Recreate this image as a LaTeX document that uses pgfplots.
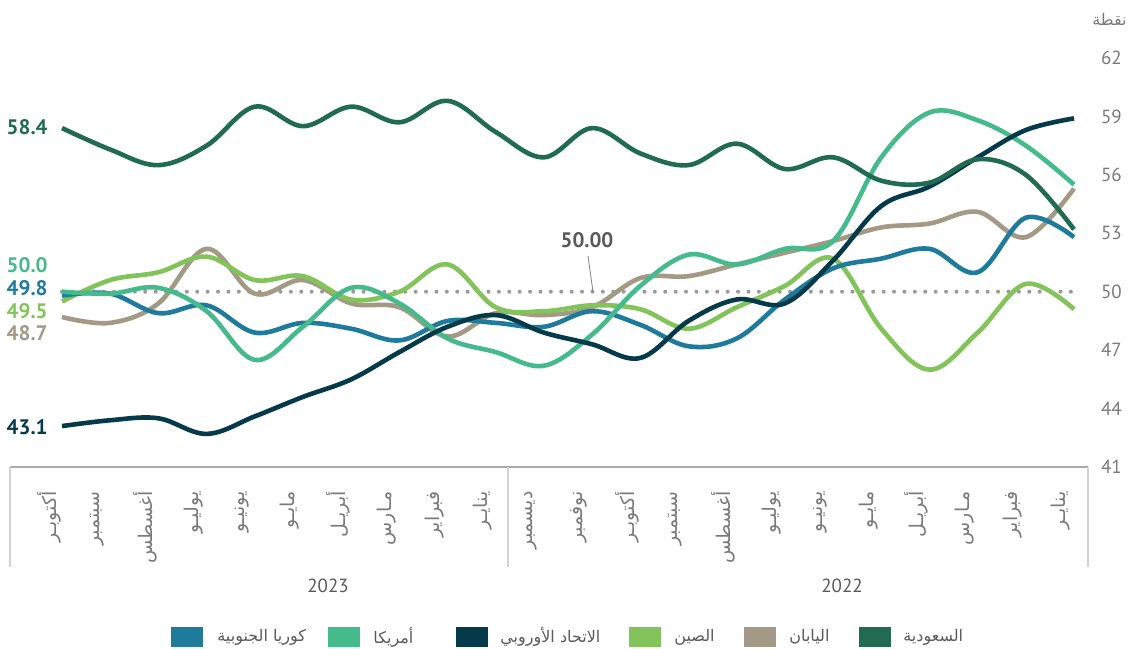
\documentclass[border=0pt]{standalone}
\usepackage{pgfplots}
\pgfplotsset{compat=1.18}
\usepackage{fontspec}
\setmainfont{PT Sans}
\newfontfamily\arabicfont[Script=Arabic]{DejaVu Sans}
\TeXXeTstate=1
\newcommand{\ar}[1]{{\arabicfont\beginR #1\endR}}
\definecolor{csa}{HTML}{216B52}
\definecolor{ceu}{HTML}{053A4A}
\definecolor{cus}{HTML}{45BA8C}
\definecolor{ccn}{HTML}{82C45A}
\definecolor{cjp}{HTML}{A39A85}
\definecolor{ckr}{HTML}{1F7B9B}
\definecolor{tickgray}{HTML}{7A7A7A}
\definecolor{axgray}{HTML}{A8A8A8}
\definecolor{sepgray}{HTML}{D2D2D2}
\definecolor{dotgray}{HTML}{9A9A9A}
\definecolor{txtgray}{HTML}{5A5A5A}
\pgfplotstableread{
i sa eu us cn jp kr
0 58.4 43.1 50.0 49.5 48.7 49.8
1 57.3 43.4 49.9 50.6 48.4 49.9
2 56.5 43.5 50.2 51.0 49.4 48.9
3 57.5 42.7 49.0 51.8 52.2 49.3
4 59.5 43.6 46.5 50.6 49.9 47.9
5 58.5 44.6 48.2 50.8 50.6 48.4
6 59.5 45.5 50.2 49.6 49.4 48.1
7 58.7 46.9 49.4 50.0 49.2 47.5
8 59.8 48.2 47.6 51.4 47.7 48.5
9 58.2 48.8 46.9 49.2 48.9 48.4
10 56.9 47.9 46.2 49.0 48.8 48.2
11 58.4 47.3 47.8 49.3 49.2 49.0
12 57.1 46.6 50.3 49.1 50.7 48.3
13 56.5 48.5 51.9 48.1 50.8 47.2
14 57.6 49.6 51.4 49.2 51.4 47.6
15 56.3 49.4 52.2 50.3 52.0 49.6
16 56.9 51.6 52.6 51.7 52.6 51.2
17 55.7 54.4 56.9 48.1 53.3 51.7
18 55.6 55.4 59.2 46.0 53.5 52.2
19 56.8 56.9 58.8 47.9 54.1 51.0
20 56.0 58.3 57.5 50.4 52.8 53.8
21 53.2 58.9 55.5 49.1 55.3 52.8
}\pmidata
\begin{document}
\begin{tikzpicture}
\path[use as bounding box] (0,0) rectangle (564.5pt,324pt);
\begin{axis}[
  at={(5pt,90.5pt)}, anchor=south west,
  scale only axis, width=539pt, height=204.5pt,
  xmin=-1.08, xmax=21.29, ymin=41, ymax=62,
  axis x line=bottom, axis y line=right,
  x axis line style={-, draw=axgray, line width=1pt},
  y axis line style={draw=none},
  ytick={41,44,...,62},
  xtick={0,...,21},
  major tick length=0pt,
  /pgf/number format/assume math mode=true,
  yticklabel style={font=\fontsize{9.5}{11}\selectfont, text=tickgray, anchor=west, xshift=3pt},
  xticklabels={\ar{أكتوبـر},\ar{سبتمبر},\ar{أغسطس},\ar{يوليـو},\ar{يونيـو},\ar{مايـو},\ar{أبريـل},\ar{مـارس},\ar{فبراير},\ar{ينايـر},\ar{ديسمبر},\ar{نوفمبر},\ar{أكتوبـر},\ar{سبتمبر},\ar{أغسطس},\ar{يوليـو},\ar{يونيـو},\ar{مايـو},\ar{أبريـل},\ar{مـارس},\ar{فبراير},\ar{ينايـر}},
  xticklabel style={font=\fontsize{9.5}{10}\selectfont, text=tickgray, xshift=-6.5pt, yshift=-12pt, rotate=90, anchor=east, inner sep=0pt},
  clip=false,
  every axis plot/.append style={line width=2.3pt, smooth, tension=0.6, no markers},
]
\addplot[dotgray, line width=2pt, line cap=round, dash pattern=on 0pt off 5.2pt, sharp plot] coordinates {(0,50) (21,50)};
\addplot[cjp] table[x=i,y=jp] {\pmidata};
\addplot[ccn] table[x=i,y=cn] {\pmidata};
\addplot[ckr] table[x=i,y=kr] {\pmidata};
\addplot[cus] table[x=i,y=us] {\pmidata};
\addplot[ceu] table[x=i,y=eu] {\pmidata};
\addplot[csa] table[x=i,y=sa] {\pmidata};
\draw[sepgray, line width=0.6pt] (axis cs:-1.08,41) -- ([yshift=-50pt]axis cs:-1.08,41);
\draw[sepgray, line width=0.6pt] (axis cs:9.255,41) -- ([yshift=-50pt]axis cs:9.255,41);
\draw[sepgray, line width=0.6pt] (axis cs:21.29,41) -- ([yshift=-50pt]axis cs:21.29,41);
\end{axis}
\begin{scope}[x=0.5pt, y=-0.5pt, yshift=324pt]
% year labels
\node[text=txtgray, font=\fontsize{9.5}{11}\selectfont] at (328,586) {2023};
\node[text=txtgray, font=\fontsize{9.5}{11}\selectfont] at (842,586) {2022};
% unit label
\node[text=tickgray, anchor=east, font=\fontsize{8}{10}\selectfont\arabicfont, inner sep=0pt] at (1127,19) {\beginR نقطة\endR};
% end labels
\begin{scope}[every node/.style={anchor=east, inner sep=0pt, font=\fontsize{10.5}{12}\selectfont\bfseries}]
\node[text=csa] at (48,127) {58.4};
\node[text=cus] at (48,265) {50.0};
\node[text=ckr] at (48,288) {49.8};
\node[text=ccn] at (48,311) {49.5};
\node[text=cjp] at (48,333) {48.7};
\node[text=ceu] at (48,427) {43.1};
\end{scope}
% 50.00 annotation
\node[text=txtgray, font=\fontsize{10.5}{12}\selectfont\bfseries] at (587,240) {50.00};
\draw[gray, line width=0.4pt] (588,256) -- (593,292);
% legend
\begin{scope}[every node/.style={anchor=west, inner sep=0pt, text=txtgray, font=\fontsize{8}{10}\selectfont\arabicfont}]
\fill[ckr] (171,627) rectangle (203,647); \node at (217,637) {\beginR كوريا الجنوبية\endR};
\fill[cus] (328,627) rectangle (360,647); \node at (373,637) {\beginR أمريكا\endR};
\fill[ceu] (456,627) rectangle (488,647); \node at (500,637) {\beginR الاتحاد الأوروبي\endR};
\fill[ccn] (629,627) rectangle (661,647); \node at (674,637) {\beginR الصين\endR};
\fill[cjp] (744,627) rectangle (776,647); \node at (789,637) {\beginR اليابان\endR};
\fill[csa] (859,627) rectangle (891,647); \node at (903,637) {\beginR السعودية\endR};
\end{scope}
\end{scope}
\end{tikzpicture}
\end{document}
